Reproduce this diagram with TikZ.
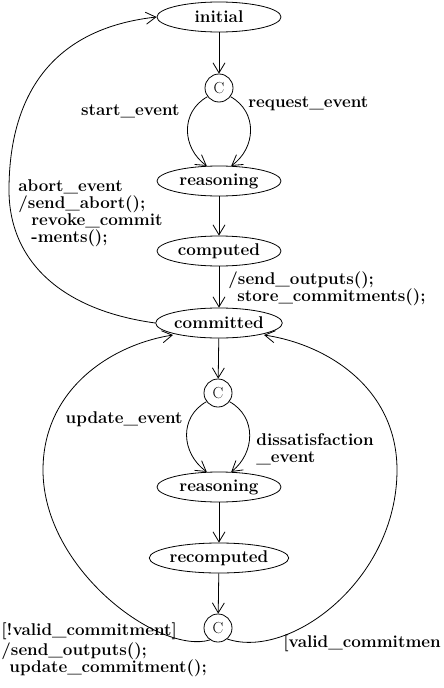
\documentclass[tikz,border=0pt]{standalone}
\usetikzlibrary{shapes.geometric,arrows.meta}
\newcommand\lblfont{\fontsize{17}{18}\selectfont\bfseries}
\newcommand\cfont{\fontsize{16}{18}\selectfont}
\begin{document}
\begin{tikzpicture}[x=1pt,y=-1pt,
  line width=0.8pt,
  state/.style={ellipse, draw, minimum width=124pt, minimum height=30pt, inner sep=0pt, font=\lblfont},
  cnode/.style={circle, draw, minimum size=28pt, inner sep=0pt, font=\cfont},
  arr/.style={-{Straight Barb[length=10pt,width=12pt]}},
  lbl/.style={inner sep=0pt, font=\lblfont}]
\useasboundingbox (0,0) rectangle (444,688);
\clip (0,0) rectangle (444,688);
% states
\node[state] (ini) at (219,17) {initial};
\node[cnode] (c1) at (219,88) {C};
\node[state] (r1) at (219,181) {reasoning};
\node[state] (cmp) at (219,251) {computed};
\node[state] (com) at (219,323) {committed};
\node[cnode] (c2) at (218,393) {C};
\node[state] (r2) at (219,487) {reasoning};
\node[state] (rec) at (219,558) {recomputed};
\node[cnode] (c3) at (218,628) {C};
% straight edges
\draw[arr] (ini) -- (c1);
\draw[arr] (r1) -- (cmp);
\draw[arr] (cmp) -- (com);
\draw[arr] (com) -- (c2);
\draw[arr] (r2) -- (rec);
\draw[arr] (rec) -- (c3);
% choice branches
\draw[arr] (c1.217) .. controls (180,112) and (182,148) .. (r1.129);
\draw[arr] (c1.323) .. controls (258,112) and (256,148) .. (r1.51);
\draw[arr] (c2.217) .. controls (179,417) and (181,453) .. (r2.129);
\draw[arr] (c2.323) .. controls (257,417) and (255,453) .. (r2.51);
% abort loop
\draw[arr] (com.west) .. controls (60,310) and (9,260) .. (9,190)
  .. controls (9,110) and (40,30) .. (ini.west);
% commitment loops
\draw[arr] (c3.236) .. controls (160,655) and (43,570) .. (43,470)
  .. controls (43,390) and (110,345) .. (173,335);
\draw[arr] (c3.310) .. controls (290,660) and (397,580) .. (397,470)
  .. controls (397,390) and (330,345) .. (264,335);
% labels
\node[lbl, anchor=base east] (lstart) at (180,115) {start\_event};
\node[lbl, anchor=base west] (lreq) at (248,107) {request\_event};
\node[lbl, anchor=base west] (la1) at (18,191) {abort\_event};
\node[lbl, anchor=base west] (la2) at (18,208) {/send\_abort();};
\node[lbl, anchor=base west] (la3) at (31,225) {revoke\_commit};
\node[lbl, anchor=base west] (la4) at (31,242) {-ments();};
\node[lbl, anchor=base west] (lo1) at (228,284.5) {/send\_outputs();};
\node[lbl, anchor=base west] (lo2) at (237,301) {store\_commitments();};
\node[lbl, anchor=base east] (lupd) at (183,423) {update\_event};
\node[lbl, anchor=base west] (ld1) at (256,445) {dissatisfaction};
\node[lbl, anchor=base west] (ld2) at (256,462) {\_event};
\node[lbl, anchor=base west] (lv1) at (1,635) {[!valid\_commitment]};
\node[lbl, anchor=base west] (lv2) at (1,655) {/send\_outputs();};
\node[lbl, anchor=base west] (lv3) at (9,672) {update\_commitment();};
\node[lbl, anchor=base west] (lvr) at (283,647) {[valid\_commitmen};
\end{tikzpicture}
\end{document}
